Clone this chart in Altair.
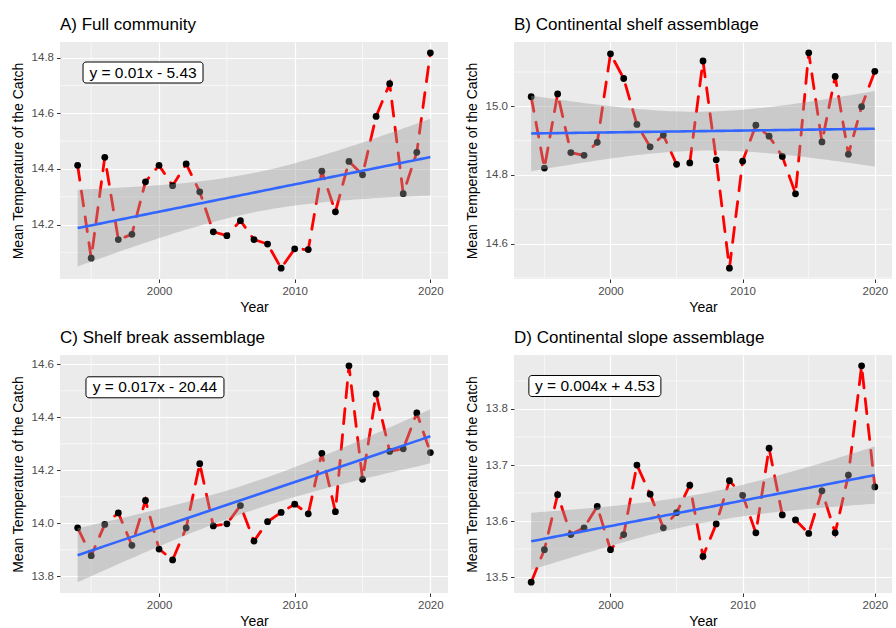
import altair as alt
import numpy as np
import pandas as pd

# ---------------- data ----------------
years = list(range(1994, 2021))

full_community = [14.413, 14.079, 14.442, 14.146, 14.165, 14.354, 14.413, 14.340, 14.418,
                  14.318, 14.174, 14.160, 14.214, 14.146, 14.130, 14.043, 14.113, 14.110,
                  14.392, 14.246, 14.427, 14.379, 14.589, 14.707, 14.311, 14.460, 14.818]

continental_shelf = [15.028, 14.820, 15.036, 14.865, 14.857, 14.895, 15.153, 15.081, 14.947,
                     14.882, 14.916, 14.831, 14.835, 15.132, 14.844, 14.528, 14.840, 14.945,
                     14.913, 14.854, 14.745, 15.156, 14.896, 15.087, 14.860, 14.999, 15.102]

shelf_break = [13.983, 13.878, 13.996, 14.039, 13.917, 14.086, 13.903, 13.862, 13.983,
               14.225, 13.990, 13.998, 14.067, 13.933, 14.006, 14.041, 14.072, 14.036,
               14.264, 14.044, 14.594, 14.166, 14.488, 14.271, 14.281, 14.416, 14.267]

continental_slope = [13.491, 13.549, 13.647, 13.576, 13.588, 13.626, 13.549, 13.576, 13.700,
                     13.648, 13.588, 13.615, 13.664, 13.537, 13.595, 13.672, 13.646, 13.579,
                     13.730, 13.611, 13.602, 13.578, 13.654, 13.579, 13.682, 13.877, 13.661]

titles = ["A) Full community", "B) Continental shelf assemblage",
          "C) Shelf break assemblage", "D) Continental slope assemblage"]
equations = ["y = 0.01x - 5.43", None, "y = 0.017x - 20.44", "y = 0.004x + 4.53"]

x_major = [2000, 2010, 2020]
x_minor = [1995, 2005, 2015]
y_major = [[14.2, 14.4, 14.6, 14.8], [14.6, 14.8, 15.0],
           [13.8, 14.0, 14.2, 14.4, 14.6], [13.5, 13.6, 13.7, 13.8]]
y_minor = [[14.1, 14.3, 14.5, 14.7], [14.5, 14.7, 14.9, 15.1],
           [13.9, 14.1, 14.3, 14.5], [13.55, 13.65, 13.75, 13.85]]

# annotation anchor (data coords) and box half sizes (px)
eq_anchor = [(1998.82, 14.747), None, (1999.70, 14.513), (1998.82, 13.841)]
eq_halfw = [60, 0, 69, 66]

FONT = "Liberation Sans"


def lm_band(xv, yv, n=80):
    x = np.asarray(xv, float)
    y = np.asarray(yv, float)
    b, a = np.polyfit(x, y, 1)
    xs = np.linspace(x.min(), x.max(), n)
    resid = y - (a + b * x)
    s = np.sqrt(np.sum(resid ** 2) / (len(x) - 2))
    sxx = np.sum((x - x.mean()) ** 2)
    se = s * np.sqrt(1.0 / len(x) + (xs - x.mean()) ** 2 / sxx)
    t = 2.0595  # t(0.975, df = 25)
    fit = a + b * xs
    return pd.DataFrame({"Year": xs, "Temp": fit, "lower": fit - t * se, "upper": fit + t * se})


def panel(values, idx, width, height):
    df = pd.DataFrame({"Year": years, "Temp": values})
    band = lm_band(years, values)
    lo = min(min(values), band["lower"].min())
    hi = max(max(values), band["upper"].max())
    pad = (hi - lo) * 0.05
    xr = (max(years) - min(years)) * 0.05
    xscale = alt.Scale(domain=[min(years) - xr, max(years) + xr], nice=False, zero=False)
    yscale = alt.Scale(domain=[lo - pad, hi + pad], nice=False, zero=False)
    xaxis = alt.Axis(values=x_major, format="d", title="Year", titlePadding=3)
    yaxis = alt.Axis(values=y_major[idx], format=".1f", title="Mean Temperature of the Catch",
                     titlePadding=6)
    X = alt.X("Year:Q", scale=xscale, axis=xaxis)
    Y = alt.Y("Temp:Q", scale=yscale, axis=yaxis)

    minor_x = alt.Chart(pd.DataFrame({"Year": x_minor})).mark_rule(
        color="white", strokeWidth=0.6).encode(x=X)
    minor_y = alt.Chart(pd.DataFrame({"Temp": y_minor[idx]})).mark_rule(
        color="white", strokeWidth=0.6).encode(y=Y)

    line = alt.Chart(df).mark_line(color="#FF0000", strokeWidth=2.8,
                                   strokeDash=[15, 11], strokeCap="round").encode(x=X, y=Y)
    pts = alt.Chart(df).mark_circle(color="black", size=46, opacity=1).encode(x=X, y=Y)
    ribbon = alt.Chart(band).mark_area(color="#999999", opacity=0.4).encode(
        x=X, y=alt.Y("lower:Q", scale=yscale, axis=yaxis), y2="upper:Q")
    fitline = alt.Chart(band).mark_line(color="#3366FF", strokeWidth=2.6).encode(x=X, y=Y)

    layers = [minor_x, minor_y, line, pts, ribbon, fitline]
    if equations[idx] is not None:
        ax, ay = eq_anchor[idx]
        hw = eq_halfw[idx]
        adf = pd.DataFrame({"Year": [ax], "Temp": [ay], "label": [equations[idx]]})
        box = alt.Chart(adf).mark_rect(
            fill="white", stroke="black", strokeWidth=1, cornerRadius=3,
            xOffset=-hw, x2Offset=hw, yOffset=-10.5, y2Offset=10.5
        ).encode(x=X, x2="Year:Q", y=Y, y2="Temp:Q")
        txt = alt.Chart(adf).mark_text(font=FONT, fontSize=15.5, color="black",
                                       baseline="middle", align="center").encode(
            x=X, y=Y, text="label:N")
        layers += [box, txt]

    return alt.layer(*layers).properties(
        width=width, height=height,
        title=alt.TitleParams(titles[idx], anchor="start", frame="group", fontSize=17,
                              font=FONT, fontWeight="normal", color="black", offset=8),
    )


pA = panel(full_community, 0, 388, 237)
pB = panel(continental_shelf, 1, 378, 237)
pC = panel(shelf_break, 2, 388, 238)
pD = panel(continental_slope, 3, 378, 238)

chart = alt.vconcat(
    alt.hconcat(pA, pB, spacing=16),
    alt.hconcat(pC, pD, spacing=16),
    spacing=14,
).properties(
    padding={"left": 11, "top": 15, "right": 0, "bottom": 0},
    background="white",
).configure_view(
    fill="#EBEBEB", stroke=None
).configure_axis(
    grid=True, gridColor="white", gridWidth=1.2,
    domain=False, tickColor="#333333", tickSize=3.5, tickWidth=1,
    labelColor="#4D4D4D", labelFontSize=11.5, labelFont=FONT, labelPadding=3,
    titleFont=FONT, titleFontSize=14, titleFontWeight="normal", titleColor="black",
)

chart.save("out.html", embed_options={"renderer": "svg", "actions": False})
